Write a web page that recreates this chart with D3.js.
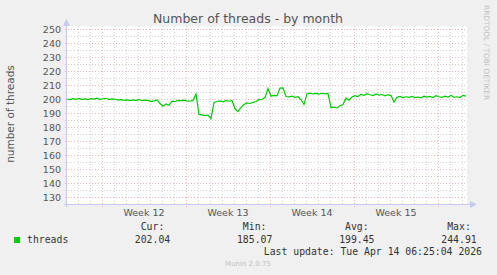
<!DOCTYPE html>
<html>
<head>
<meta charset="utf-8">
<script src="https://cdn.jsdelivr.net/npm/d3@7"></script>
<style>
  body { margin: 0; background: #f0f0f0; }
  svg { display: block; }
</style>
</head>
<body>
<svg id="chart"></svg>
<script>
// one sample every 6 hours, starting at startTime
var startTime = Date.UTC(2026, 2, 13, 2, 0);
var stepHours = 6;
var threads = [
  200.0, 199.6, 200.2, 199.8, 200.4, 199.7, 200.1, 199.5, 200.3, 199.9,
  200.6, 199.8, 200.2, 200.5, 199.6, 200.1, 199.8, 199.2, 199.5, 199.0,
  199.4, 198.9, 199.3, 199.0, 199.6, 198.8, 199.2, 199.0, 198.2, 198.6,
  199.4, 196.8, 194.8, 196.5, 195.5, 198.5, 198.2, 199.0, 198.8, 199.2,
  198.7, 198.4, 199.0, 203.6, 189.0, 188.6, 188.2, 188.5, 186.0, 197.6,
  198.2, 198.6, 198.0, 198.8, 198.4, 198.9, 193.0, 191.0, 194.0, 196.0,
  197.2, 196.8, 197.6, 198.2, 199.5, 199.8, 201.0, 207.5, 202.0, 202.6,
  202.2, 207.8, 208.0, 201.8, 201.5, 202.0, 201.2, 201.6, 199.6, 196.0,
  203.8, 204.2, 203.6, 204.0, 203.5, 204.1, 203.7, 204.0, 193.8, 194.2,
  193.6, 195.2, 196.0, 200.6, 199.2, 201.4, 202.4, 201.8, 203.2, 202.6,
  203.8, 203.0, 202.4, 203.6, 202.8, 203.2, 202.2, 203.0, 202.6, 197.8,
  201.2, 201.8, 201.0, 201.6, 201.2, 201.9, 201.0, 201.4, 200.8, 202.0,
  201.4, 201.8, 201.0, 202.4, 201.6, 201.2, 202.0, 201.4, 202.6, 201.2,
  201.6, 201.0, 202.6, 202.04
];
var yTicks = [130, 140, 150, 160, 170, 180, 190, 200, 210, 220, 230, 240, 250];
var legendHeads = ["Cur:", "Min:", "Avg:", "Max:"];
var legendValues = ["202.04", "185.07", "199.45", "244.91"];
var seriesName = "threads";
var title = "Number of threads - by month";
var yTitle = "number of threads";
var lastUpdate = "Last update: Tue Apr 14 06:25:04 2026";

var W = 497, H = 275;
var plotL = 67, plotR = 467, plotT = 29, plotB = 204;
var dayMs = 24 * 3600 * 1000;
var endTime = startTime + (plotR - plotL) / 12 * dayMs;

var svg = d3.select("#chart").attr("width", W).attr("height", H);
svg.append("rect").attr("width", W).attr("height", H).attr("fill", "#f0f0f0");

var x = d3.scaleTime().domain([startTime, endTime]).range([plotL, plotR]);
var y = d3.scaleLinear().domain([125, 250]).range([plotB, plotT]);

// plot area
svg.append("rect")
  .attr("x", plotL).attr("y", plotT - 3)
  .attr("width", plotR - plotL).attr("height", plotB - plotT + 3)
  .attr("fill", "#ffffff");

var grid = svg.append("g").attr("shape-rendering", "crispEdges");
var minorColor = "#d2d2d2", majorColor = "#f2b4b4";

// minor horizontal lines every 5
var minorY = d3.range(135, 250, 10);
grid.selectAll(".hmin").data(minorY).enter().append("line")
  .attr("x1", plotL - 2).attr("x2", plotR)
  .attr("y1", function(d) { return Math.round(y(d)) + 0.5; })
  .attr("y2", function(d) { return Math.round(y(d)) + 0.5; })
  .attr("stroke", minorColor).attr("stroke-dasharray", "1,2");

// vertical day lines
var days = d3.utcDay.range(startTime, endTime).filter(function(d) { return d.getUTCDay() !== 1; });
grid.selectAll(".vmin").data(days).enter().append("line")
  .attr("x1", function(d) { return Math.round(x(d)) + 0.5; })
  .attr("x2", function(d) { return Math.round(x(d)) + 0.5; })
  .attr("y1", plotT - 3).attr("y2", plotB + 2)
  .attr("stroke", minorColor).attr("stroke-dasharray", "1,2");

// major horizontal lines
grid.selectAll(".hmaj").data(yTicks).enter().append("line")
  .attr("x1", plotL - 2).attr("x2", plotR)
  .attr("y1", function(d) { return Math.round(y(d)) + 0.5; })
  .attr("y2", function(d) { return Math.round(y(d)) + 0.5; })
  .attr("stroke", majorColor).attr("stroke-dasharray", "1,2");

// major vertical lines (Mondays)
var mondays = d3.utcMonday.range(startTime, endTime);
grid.selectAll(".vmaj").data(mondays).enter().append("line")
  .attr("x1", function(d) { return Math.round(x(d)) + 0.5; })
  .attr("x2", function(d) { return Math.round(x(d)) + 0.5; })
  .attr("y1", plotT - 3).attr("y2", plotB + 3)
  .attr("stroke", majorColor).attr("stroke-dasharray", "1,2");

// axes
var axisColor = "#c8c8f4";
svg.append("line")
  .attr("x1", plotL - 0.5).attr("x2", plotL - 0.5)
  .attr("y1", plotB + 3).attr("y2", plotT - 5)
  .attr("stroke", axisColor);
svg.append("path")
  .attr("d", "M" + (plotL - 4) + "," + (plotT - 3) + "L" + (plotL - 0.5) + "," + (plotT - 10) + "L" + (plotL + 3) + "," + (plotT - 3) + "Z")
  .attr("fill", axisColor);
svg.append("line")
  .attr("x1", plotL - 3).attr("x2", plotR + 3)
  .attr("y1", plotB + 0.5).attr("y2", plotB + 0.5)
  .attr("stroke", axisColor);
svg.append("path")
  .attr("d", "M" + (plotR + 3) + "," + (plotB - 3) + "L" + (plotR + 10) + "," + (plotB + 0.5) + "L" + (plotR + 3) + "," + (plotB + 4) + "Z")
  .attr("fill", axisColor);

// y tick labels
svg.selectAll(".ylab").data(yTicks).enter().append("text")
  .attr("x", plotL - 6)
  .attr("y", function(d) { return y(d) + 3.5; })
  .attr("text-anchor", "end")
  .attr("font-family", "DejaVu Sans")
  .attr("font-size", 9.5)
  .attr("fill", "#555555")
  .text(function(d) { return d; });

// week labels
var fmtWeek = d3.utcFormat("Week %V");
var weekLabels = d3.utcMonday.range(startTime - 7 * dayMs, endTime)
  .map(function(d) { return new Date(+d + 3.5 * dayMs); })
  .filter(function(d) { return d >= startTime && d <= endTime; });
svg.selectAll(".xlab").data(weekLabels).enter().append("text")
  .attr("x", function(d) { return x(d); })
  .attr("y", 216)
  .attr("text-anchor", "middle")
  .attr("font-family", "DejaVu Sans")
  .attr("font-size", 9.5)
  .attr("fill", "#555555")
  .text(function(d) { return fmtWeek(new Date(+d - 3.5 * dayMs)); });

// data line
var line = d3.line()
  .x(function(d, i) { return x(startTime + i * stepHours * 3600 * 1000); })
  .y(function(d) { return y(d); });
svg.append("path")
  .datum(threads)
  .attr("d", line)
  .attr("fill", "none")
  .attr("stroke", "#00cc00")
  .attr("stroke-width", 1.2);

// title
svg.append("text")
  .attr("x", 248).attr("y", 23)
  .attr("text-anchor", "middle")
  .attr("font-family", "DejaVu Sans")
  .attr("font-size", 12.5)
  .attr("fill", "#555555")
  .text(title);

// y axis title
svg.append("text")
  .attr("transform", "translate(14,114) rotate(-90)")
  .attr("text-anchor", "middle")
  .attr("font-family", "DejaVu Sans")
  .attr("font-size", 10.5)
  .attr("fill", "#555555")
  .text(yTitle);

// watermark
svg.append("text")
  .attr("transform", "translate(484,5) rotate(90)")
  .attr("font-family", "DejaVu Sans")
  .attr("font-size", 7.4)
  .attr("fill", "#c0c0c0")
  .text("RRDTOOL / TOBI OETIKER");

// legend
var mono = "DejaVu Sans Mono";
svg.append("rect").attr("x", 14).attr("y", 237).attr("width", 6).attr("height", 6).attr("fill", "#00cc00");
svg.append("text").attr("x", 27).attr("y", 243)
  .attr("font-family", mono).attr("font-size", 9.8).attr("fill", "#333333")
  .text(seriesName);
var colX = d3.scalePoint().domain(legendHeads).range([152.5, 459]);
svg.selectAll(".lhead").data(legendHeads).enter().append("text")
  .attr("x", function(d) { return colX(d); }).attr("y", 230)
  .attr("text-anchor", "middle")
  .attr("font-family", mono).attr("font-size", 9.8).attr("fill", "#333333")
  .text(function(d) { return d; });
svg.selectAll(".lval").data(legendValues).enter().append("text")
  .attr("x", function(d, i) { return colX(legendHeads[i]); }).attr("y", 243)
  .attr("text-anchor", "middle")
  .attr("font-family", mono).attr("font-size", 9.8).attr("fill", "#333333")
  .text(function(d) { return d; });
svg.append("text").attr("x", 482).attr("y", 255)
  .attr("text-anchor", "end")
  .attr("font-family", mono).attr("font-size", 9.8).attr("fill", "#333333")
  .text(lastUpdate);
svg.append("text").attr("x", 248).attr("y", 266)
  .attr("text-anchor", "middle")
  .attr("font-family", "DejaVu Sans").attr("font-size", 7)
  .attr("fill", "#c0c0c0")
  .text("Munin 2.0.75");
</script>
</body>
</html>
